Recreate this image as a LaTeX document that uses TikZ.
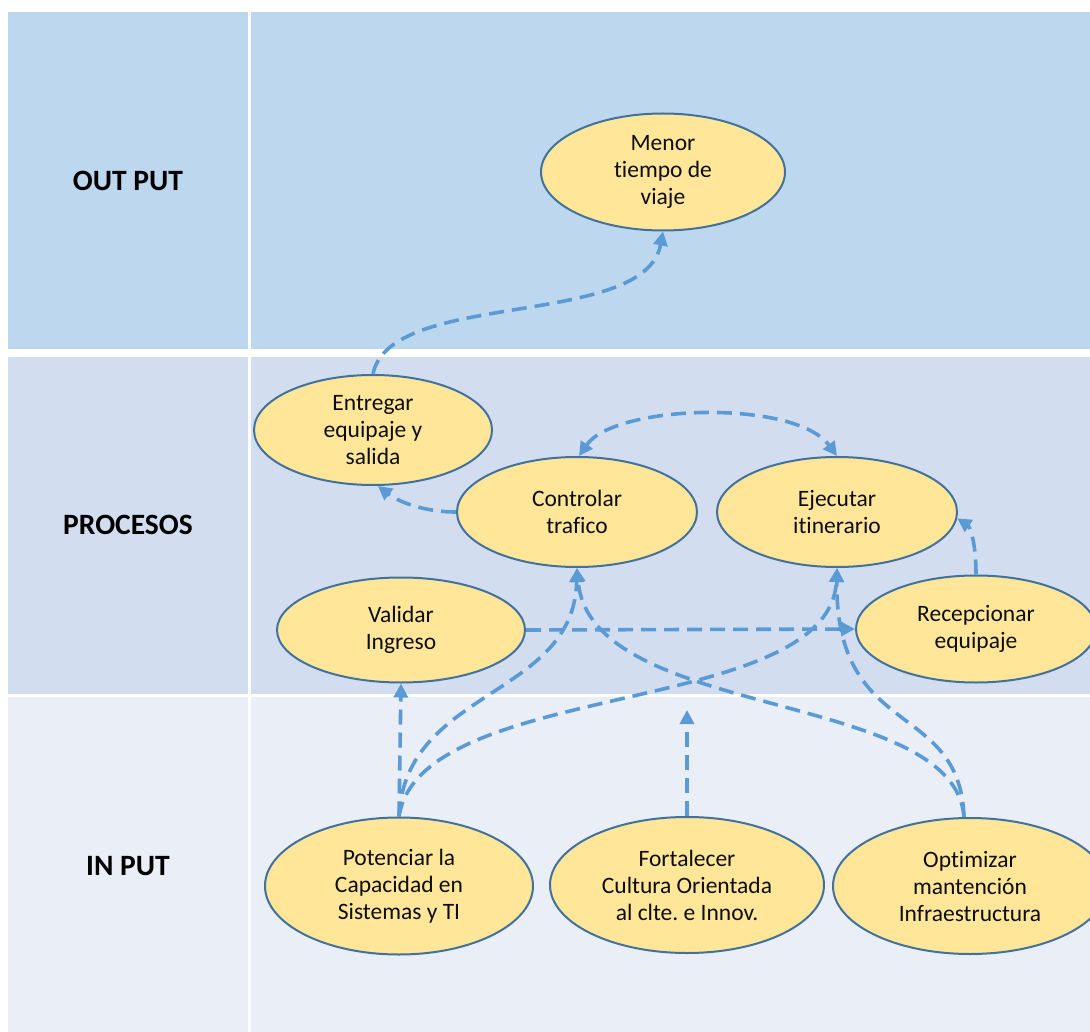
\documentclass[tikz,border=0pt]{standalone}
\usepackage{fontspec}
\setmainfont{Carlito}[Ligatures=NoCommon]
\usetikzlibrary{shapes.geometric,arrows.meta}
\definecolor{rowout}{HTML}{BDD7EE}
\definecolor{rowproc}{HTML}{D2DEEF}
\definecolor{rowin}{HTML}{E9EEF7}
\definecolor{ovfill}{HTML}{FFE699}
\definecolor{ovline}{HTML}{41719C}
\definecolor{flow}{HTML}{5B9BD5}
\frenchspacing
\begin{document}
\begin{tikzpicture}[x=1pt,y=-1pt,
  oval/.style={ellipse, draw=ovline, line width=2pt, fill=ovfill, inner sep=0pt,
    align=center, text=black!95, font=\fontsize{23.5}{27}\selectfont},
  rowlabel/.style={text=black, font=\bfseries\fontsize{29.5}{34}\selectfont},
  >={Triangle[length=14pt,width=14pt]},
  flowline/.style={draw=flow, line width=3.6pt, dash pattern=on 15pt off 8pt, ->}]

\clip (0,0) rectangle (1090,1032);
\fill[white] (0,0) rectangle (1090,1032);

% table rows: label column and content column
\fill[rowout]  (8,12)   rectangle (248,349);
\fill[rowout]  (251,12) rectangle (1090,349);
\fill[rowproc] (8,357)  rectangle (248,694);
\fill[rowproc] (251,357) rectangle (1090,694);
\fill[rowin]   (8,697)  rectangle (248,1032);
\fill[rowin]   (251,697) rectangle (1090,1032);

% row labels
\node[rowlabel] (lblout)  at (128,181) {OUT PUT};
\node[rowlabel] (lblproc) at (128,525) {PROCESOS};
\node[rowlabel] (lblin)   at (128,866) {IN PUT};

% output
\node[oval, minimum width=244pt, minimum height=117pt] (menor) at (663,172) {Menor\\tiempo de\\viaje};

% processes
\node[oval, minimum width=238pt, minimum height=110pt] (entregar) at (373,430) {Entregar\\equipaje y\\salida};
\node[oval, minimum width=240pt, minimum height=110pt] (controlar) at (577,512) {Controlar\\trafico};
\node[oval, minimum width=240pt, minimum height=110pt] (ejecutar) at (837,512) {Ejecutar\\itinerario};
\node[oval, minimum width=248pt, minimum height=105pt] (validar) at (401,630) {Validar\\Ingreso};
\node[oval, minimum width=240pt, minimum height=107pt] (recepcionar) at (976,629) {Recepcionar\\equipaje};

% inputs
\node[oval, minimum width=268pt, minimum height=137pt] (potenciar) at (399,886) {Potenciar la\\Capacidad en\\Sistemas y TI};
\node[oval, minimum width=274pt, minimum height=136pt] (fortalecer) at (687,885) {Fortalecer\\Cultura Orientada\\al clte. e Innov.};
\node[oval, minimum width=274pt, minimum height=136pt] (optimizar) at (970,886) {Optimizar\\mantención\\Infraestructura};

\coordinate (fortip) at (687,710);

% connectors
\draw[flowline] (entregar.north) .. controls +(17,-85) and +(-18,98) .. (menor.south);
\draw[flowline] (controlar.west) .. controls +(-35,0) and +(18,14) .. (entregar.-85);
\draw[flowline, <->] (controlar.88) .. controls +(36,-52) and +(-42,-57) .. (ejecutar.north);
\draw[flowline] (recepcionar.north) .. controls +(0,-35) and +(12,8) .. (ejecutar.-3);
\draw[flowline] (validar.east) -- (recepcionar.west);
\draw[flowline] (potenciar.north) -- (validar.south);
\draw[flowline] (potenciar.north) .. controls +(6,-128) and +(-3,130) .. (controlar.south);
\draw[flowline] (potenciar.north) .. controls +(21,-138) and +(-7,150) .. (ejecutar.south);
\draw[flowline] (optimizar.95) .. controls +(-9,-128) and +(13,153) .. (controlar.south);
\draw[flowline] (optimizar.95) .. controls +(-4,-118) and +(-2,173) .. (ejecutar.south);
\draw[flowline] (fortalecer.north) -- (fortip);
\end{tikzpicture}
\end{document}
